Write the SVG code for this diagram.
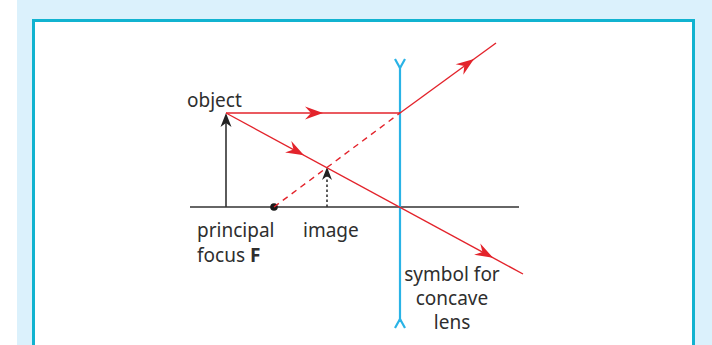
<svg xmlns="http://www.w3.org/2000/svg" width="712" height="345" viewBox="0 0 712 345">
<defs>
<style>
.lbl{font-family:"Noto Sans","Liberation Sans",sans-serif;font-size:19px;fill:#2e2e2e}
.ray{stroke:#e3232b;stroke-width:1.4;fill:none}
.blk{stroke:#333;stroke-width:1.6;fill:none}
.lens{stroke:#2ab3e6;stroke-width:2.2;fill:none}
.ah{fill:#e3232b}
</style>
<path id="redhead" d="M0,0 L-18,-6.5 L-12,0 L-18,6.5 Z"/>
</defs>
<rect x="17" y="0" width="695" height="345" fill="#dbf1fc"/>
<rect x="33.5" y="20.5" width="660" height="340" fill="#ffffff" stroke="#11b3d0" stroke-width="3"/>
<g id="axis"><line class="blk" x1="190" y1="207" x2="519" y2="207"/></g>
<g id="lens">
<line class="lens" x1="400" y1="66" x2="400" y2="322"/>
<polyline class="lens" points="395,59 400,68 405,59"/>
<polyline class="lens" points="395,328 400,319 405,328"/>
</g>
<g id="object">
<line class="blk" x1="226" y1="207" x2="226" y2="120"/>
<path d="M226,113 L220.5,127 L226,123 L231.5,127 Z" fill="#222"/>
</g>
<g id="image">
<line class="blk" x1="327" y1="207" x2="327" y2="174" stroke-dasharray="2.5,2.5" stroke-width="1.5"/>
<path d="M327,167 L322,180 L327,176 L332,180 Z" fill="#222"/>
</g>
<g id="focus"><circle cx="274" cy="207" r="3.8" fill="#1a1a1a"/></g>
<g id="connectors">
<line class="ray" x1="226" y1="113" x2="400" y2="113"/>
<line class="ray" x1="400" y1="113" x2="496" y2="43"/>
<line class="ray" x1="274" y1="207" x2="400" y2="113" stroke-dasharray="6,5"/>
<line class="ray" x1="226" y1="113" x2="523" y2="274"/>
<use href="#redhead" class="ah" transform="translate(323,113)"/>
<use href="#redhead" class="ah" transform="translate(474,59) rotate(-36.1)"/>
<use href="#redhead" class="ah" transform="translate(304,155.3) rotate(28.5)"/>
<use href="#redhead" class="ah" transform="translate(493,257.7) rotate(28.5)"/>
</g>
<g id="labels">
<text class="lbl" x="187" y="107">object</text>
<text class="lbl" x="197" y="237">principal</text>
<text class="lbl" x="197" y="262">focus <tspan font-weight="bold">F</tspan></text>
<text class="lbl" x="303" y="237">image</text>
<text class="lbl" x="452" y="281" text-anchor="middle">symbol for</text>
<text class="lbl" x="452" y="305" text-anchor="middle">concave</text>
<text class="lbl" x="452" y="329" text-anchor="middle">lens</text>
</g>
</svg>
